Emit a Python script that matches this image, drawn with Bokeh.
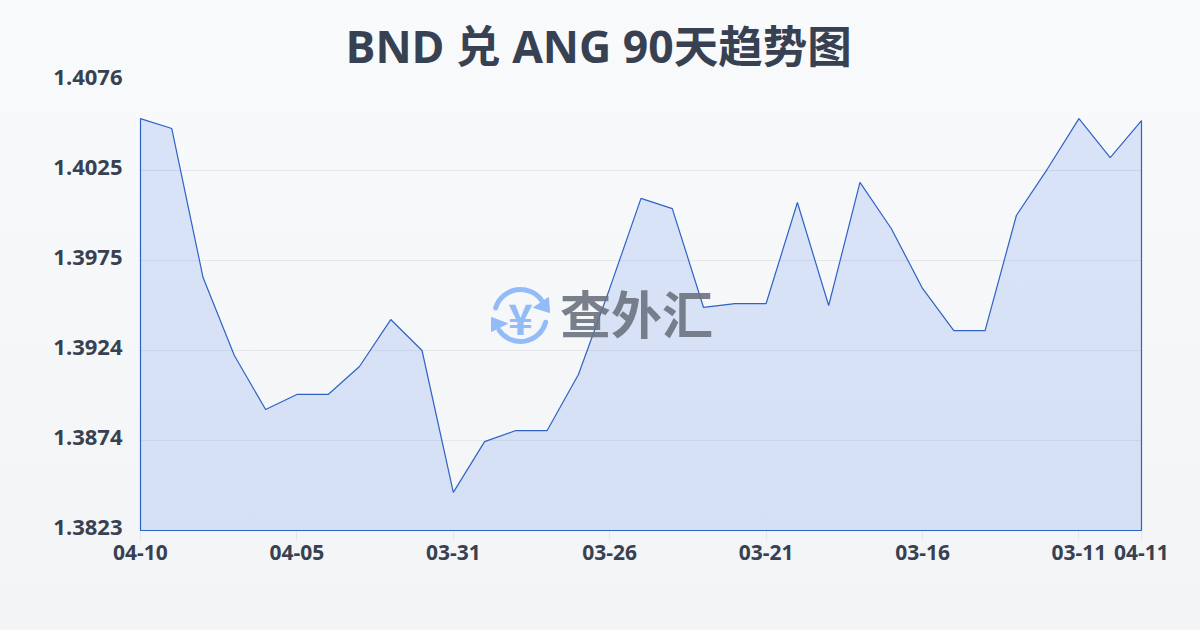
from bokeh.embed import file_html
from bokeh.resources import INLINE
from bokeh.plotting import figure
from bokeh.models import FixedTicker, Range1d, Label
from bokeh.core.properties import value
import math

title_text = "BND 兑 ANG 90天趋势图"
dates = ["04-10","04-09","04-08","04-07","04-06","04-05","04-04","04-03","04-02","04-01",
         "03-31","03-30","03-29","03-28","03-27","03-26","03-25","03-24","03-23","03-22",
         "03-21","03-20","03-19","03-18","03-17","03-16","03-15","03-14","03-13","03-12",
         "03-11","03-10","04-11"]
rates = [1.40546,1.40490,1.39652,1.39214,1.38910,1.38995,1.38995,1.39152,1.39416,1.39242,
         1.38444,1.38730,1.38792,1.38792,1.39107,1.39591,1.40097,1.40040,1.39484,1.39506,
         1.39506,1.40074,1.39495,1.40187,1.39928,1.39591,1.39354,1.39354,1.40001,
         1.40265,1.40546,1.40327,1.40535]
y_ticks = [1.3823,1.38736,1.39242,1.39748,1.40254,1.4076]
y_labels = ["1.3823","1.3874","1.3924","1.3975","1.4025","1.4076"]
x_tick_idx = [0,5,10,15,20,25,30,32]
INK = "#374151"
FONT = "'Open Sans','Noto Sans CJK SC'"

p = figure(width=1200, height=630, output_backend="svg", toolbar_location=None,
           x_range=Range1d(0, 32), y_range=Range1d(y_ticks[0], y_ticks[-1]),
           frame_width=1001, frame_height=450, min_border_left=140, min_border_right=59,
           min_border_top=80, min_border_bottom=100,
           background_fill_alpha=0, border_fill_alpha=0, outline_line_alpha=0,
           title=title_text)
p.styles = {"position":"fixed","left":"0px","top":"0px",
            "background":"linear-gradient(180deg,#f8fafc 0%,#f3f4f6 100%)"}
p.title.text_font = FONT
p.title.text_font_size = "44.5px"
p.title.text_font_style = "bold"
p.title.text_color = INK
p.title.align = "left"
p.title.offset = 205
p.title.standoff = 9

p.xgrid.visible = False
p.ygrid.ticker = FixedTicker(ticks=y_ticks)
p.ygrid.grid_line_color = "#e5e7eb"
p.ygrid.grid_line_width = 1

xa = p.xaxis[0]
xa.ticker = FixedTicker(ticks=x_tick_idx)
xa.major_label_overrides = {i: dates[i] for i in x_tick_idx}
xa.axis_line_color = None
xa.major_tick_line_color = "#e5e7eb"
xa.major_tick_out = 10
xa.major_tick_in = 0
xa.minor_tick_line_color = None
xa.major_label_text_font = "Open Sans"
xa.major_label_text_font_style = "bold"
xa.major_label_text_font_size = "21px"
xa.major_label_text_color = INK
xa.major_label_standoff = 4

p.yaxis.visible = False
p.text([0] * len(y_ticks), y_ticks, text=y_labels, x_offset=-18, y_offset=-3,
       text_align="right", text_baseline="middle", text_font=value("Open Sans"),
       text_font_style="bold", text_font_size="22px", text_color=INK, level="annotation")

xs = list(range(len(rates)))
p.patch(xs + [xs[-1], xs[0]], rates + [y_ticks[0], y_ticks[0]],
        fill_color="#2563eb", fill_alpha=0.14, line_color="#2f62c4", line_width=1.2,
        level="annotation")

# helpers: page pixels to data, for the watermark only
def dx(px): return (px - 140) / 1001 * 32
def dy(py): return y_ticks[0] + (530 - py) / 450 * (y_ticks[-1] - y_ticks[0])

BLUE = "#93bbf7"
cx, cy, r = 520, 315, 26
p.arc([dx(cx)], [dy(cy)], radius=r, radius_units="screen",
      start_angle=math.radians(35), end_angle=math.radians(163),
      line_color=BLUE, line_width=5, line_cap="round")
p.arc([dx(cx)], [dy(cy)], radius=r, radius_units="screen",
      start_angle=math.radians(215), end_angle=math.radians(345),
      line_color=BLUE, line_width=5, line_cap="round")
p.patch([dx(548), dx(549), dx(533)], [dy(297), dy(312), dy(307)], color=BLUE)
p.patch([dx(491), dx(491), dx(507)], [dy(317), dy(331), dy(323)], color=BLUE)
p.add_layout(Label(x=dx(520), y=dy(316), text="¥", text_font="Noto Sans CJK SC", text_font_style="bold",
                   text_font_size="42px", text_color=BLUE, text_align="center", text_baseline="middle"))
p.add_layout(Label(x=dx(636), y=dy(311), text="查外汇", text_font="Noto Sans CJK SC", text_font_style="bold",
                   text_font_size="51px", text_color="#6b7280", text_alpha=0.9,
                   text_align="center", text_baseline="middle"))

open("out.html", "w").write(file_html(p, INLINE))
